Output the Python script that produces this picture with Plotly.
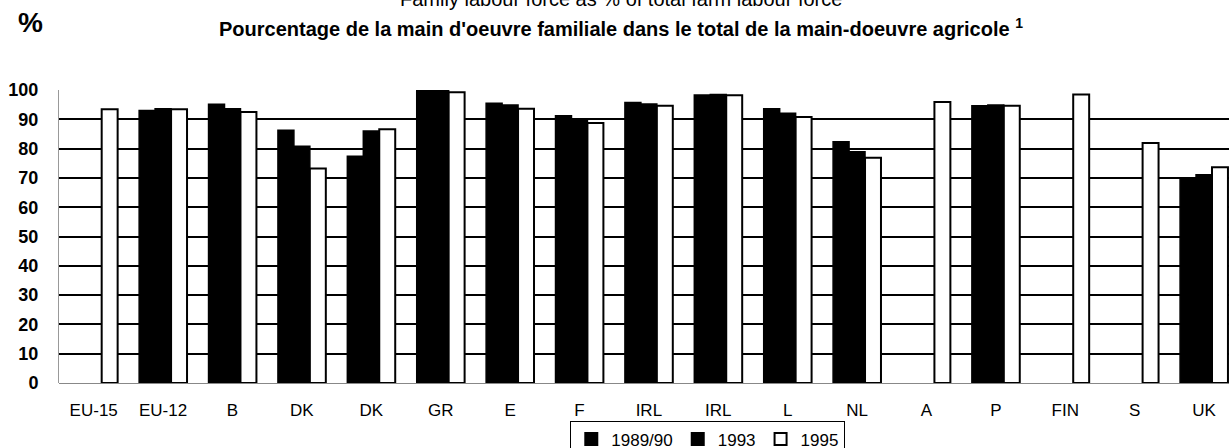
import plotly.graph_objects as go

categories = ["EU-15", "EU-12", "B", "DK", "DK", "GR", "E", "F", "IRL", "IRL",
              "L", "NL", "A", "P", "FIN", "S", "UK"]
v_1989_90 = [None, 93.0, 95.1, 86.3, 77.4, 100.0, 95.5, 91.2, 95.7, 98.3,
             93.6, 82.3, None, 94.6, None, None, 70.0]
v_1993 = [None, 93.6, 93.6, 80.8, 86.0, 100.0, 94.9, 89.8, 95.2, 98.5,
          92.1, 78.9, None, 94.9, None, None, 71.1]
v_1995 = [93.4, 93.4, 92.5, 73.2, 86.6, 99.2, 93.6, 88.7, 94.6, 98.2,
          90.8, 76.9, 95.9, 94.6, 98.5, 81.9, 73.6]

# categories repeat (DK, IRL), so plot on index positions and relabel
idx = list(range(len(categories)))
font = "Liberation Sans, Arial, sans-serif"

fig = go.Figure()
fig.add_bar(x=idx, y=v_1989_90, name="1989/90",
            marker=dict(color="black", line=dict(color="black", width=1.5)))
fig.add_bar(x=idx, y=v_1993, name="1993",
            marker=dict(color="black", line=dict(color="black", width=1.5)))
fig.add_bar(x=idx, y=v_1995, name="1995",
            marker=dict(color="white", line=dict(color="black", width=2)))

fig.update_layout(
    width=1229, height=448,
    margin=dict(l=59, r=0, t=90, b=65, autoexpand=False),
    paper_bgcolor="white", plot_bgcolor="white",
    font=dict(family=font, color="black", size=17),
    barmode="group", bargap=0.31, bargroupgap=0,
    showlegend=True,
    legend=dict(orientation="h", x=0.437, xanchor="left", y=-0.128, yanchor="top",
                bordercolor="black", borderwidth=1, bgcolor="rgba(0,0,0,0)",
                font=dict(size=17), itemwidth=30, tracegroupgap=0,
                traceorder="normal", itemsizing="constant"),
)

fig.update_xaxes(tickmode="array", tickvals=idx, ticktext=categories,
                 range=[-0.5, 16.36], showgrid=False, zeroline=False,
                 ticks="", ticklabelstandoff=15,
                 tickfont=dict(size=17))
fig.update_yaxes(range=[0, 100], dtick=10, showgrid=True, gridcolor="black",
                 gridwidth=1.5, zeroline=True, zerolinecolor="#888",
                 zerolinewidth=1, showline=True, linecolor="#999", linewidth=1,
                 ticks="", ticklabelstandoff=16,
                 tickfont=dict(size=18, weight="bold"))

fig.add_annotation(text="Family labour force as % of total farm labour force",
                   xref="paper", yref="paper", x=0.48, y=1.31,
                   xanchor="center", yanchor="middle",
                   showarrow=False, font=dict(size=20))
fig.add_annotation(text="<b>Pourcentage de la main d'oeuvre familiale dans le total de la main-doeuvre agricole <sup>1</sup></b>",
                   xref="paper", yref="paper", x=0.48, y=1.212,
                   xanchor="center", yanchor="middle",
                   showarrow=False, font=dict(size=20))
fig.add_annotation(text="<b>%</b>", xref="paper", yref="paper",
                   x=-0.024, y=1.229, xanchor="center", yanchor="middle",
                   showarrow=False, font=dict(size=28))

# page body has a default margin; drop it so the figure sits at the window corner
fig.write_html("out.html", config={"displayModeBar": False},
               post_script="document.body.style.margin='0';")
